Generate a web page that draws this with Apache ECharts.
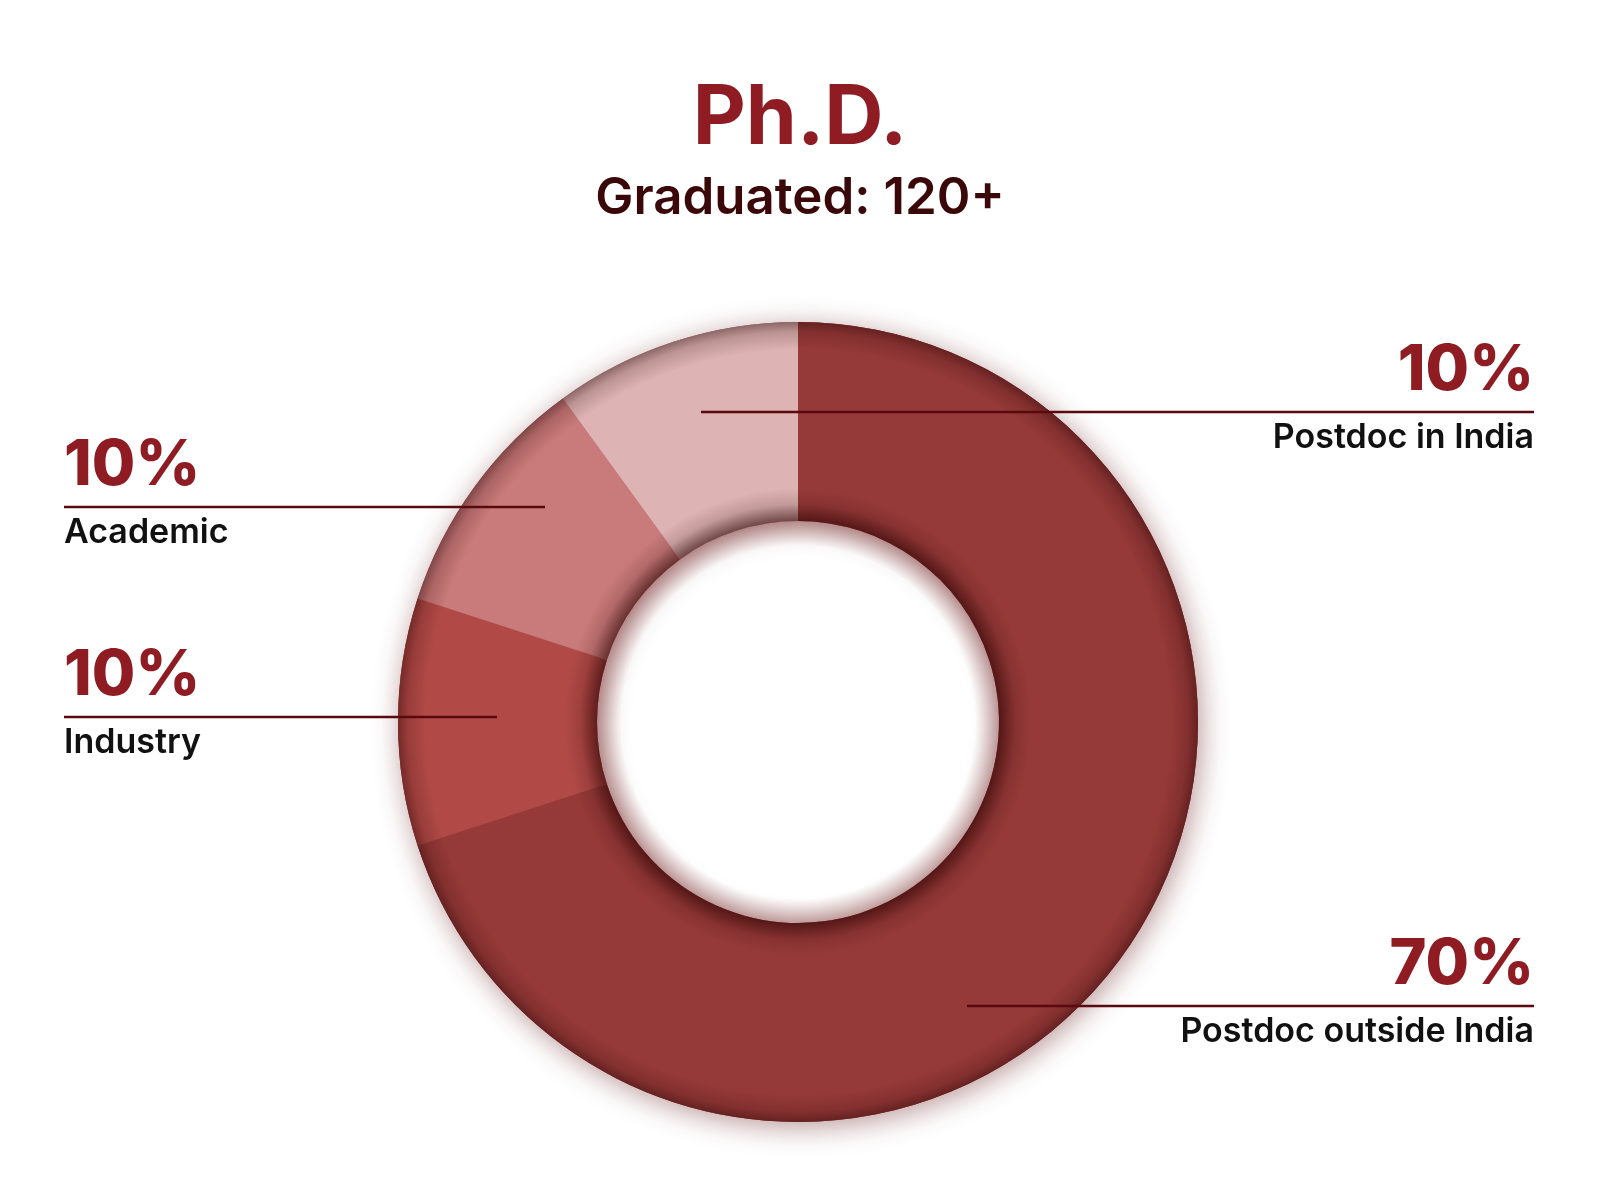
<!DOCTYPE html>
<html>
<head>
<meta charset="utf-8">
<script src="https://cdn.jsdelivr.net/npm/echarts@6/dist/echarts.min.js"></script>
<style>
html,body{margin:0;padding:0;background:#fff;}
#chart{width:1600px;height:1200px;}
</style>
</head>
<body>
<div id="chart"></div>
<script>
// ---- data ----
const categories = ['Postdoc outside India', 'Industry', 'Academic', 'Postdoc in India'];
const shares = [70, 10, 10, 10];
const titleText = 'Ph.D.';
const subtitleText = 'Graduated: 120+';

// ---- style / layout ----
const sliceColors = ['#963A39', '#B14A47', '#C97A7A', '#DDB3B3'];
const CX = 798, CY = 722, R_OUT = 400, R_IN = 201;
const FONT = 'Inter, "Noto Sans", sans-serif';
// label anchor layout per slice: line y, line start x, text side
const labelLayoutTable = [
  { lineY: 1006, startX: 967, side: 'right' },
  { lineY: 717, startX: 497, side: 'left' },
  { lineY: 507, startX: 545, side: 'left' },
  { lineY: 412, startX: 701, side: 'right' }
];
const LEFT_X = 64, RIGHT_X = 1534;

const baseData = () => categories.map((c, i) => ({ name: c, value: shares[i] }));
const pieData = categories.map((c, i) => ({ name: c, value: shares[i], itemStyle: { color: sliceColors[i] } }));
const common = { type: 'pie', center: [CX, CY], radius: [R_IN, R_OUT], startAngle: 90, clockwise: true };

const chart = echarts.init(document.getElementById('chart'));
chart.setOption({
  backgroundColor: '#ffffff',
  animation: false,
  title: [
    { text: titleText, left: 'center', top: 73,
      textStyle: { fontFamily: FONT, fontSize: 82, fontWeight: 700, color: '#8E1C22', lineHeight: 82 } },
    { text: subtitleText, left: 'center', top: 168,
      textStyle: { fontFamily: FONT, fontSize: 51, fontWeight: 600, color: '#3A0808', lineHeight: 51 } }
  ],
  series: [
    Object.assign({}, common, { // base ring with soft drop shadow
      silent: true, z: 1,
      label: { show: false }, labelLine: { show: false },
      itemStyle: { color: '#963A39', shadowBlur: 28, shadowColor: 'rgba(90,10,10,0.42)', shadowOffsetX: 3, shadowOffsetY: 5 },
      data: baseData()
    }),
    Object.assign({}, common, { // main slices
      z: 2, silent: true,
      itemStyle: { borderWidth: 0 },
      label: { show: false }, labelLine: { show: false },
      data: pieData
    }),
    Object.assign({}, common, { // bevel shading overlay
      silent: true, z: 3,
      label: { show: false }, labelLine: { show: false },
      itemStyle: {
        color: { type: 'radial', x: CX, y: CY, r: R_OUT, global: true,
          colorStops: [
            { offset: 0, color: 'rgba(40,0,0,0.6)' },
            { offset: 0.5025, color: 'rgba(40,0,0,0.6)' },
            { offset: 0.545, color: 'rgba(40,0,0,0.14)' },
            { offset: 0.585, color: 'rgba(40,0,0,0)' },
            { offset: 0.93, color: 'rgba(40,0,0,0)' },
            { offset: 0.975, color: 'rgba(40,0,0,0.18)' },
            { offset: 1, color: 'rgba(30,0,0,0.42)' }
          ] }
      },
      data: baseData()
    }),
    { // glow inside the hole
      type: 'pie', silent: true, z: 3,
      center: [CX, CY], radius: [R_IN - 24, R_IN], startAngle: 90,
      label: { show: false }, labelLine: { show: false },
      itemStyle: {
        color: { type: 'radial', x: CX, y: CY, r: R_IN, global: true,
          colorStops: [
            { offset: 0, color: 'rgba(120,40,40,0)' },
            { offset: 0.88, color: 'rgba(120,40,40,0)' },
            { offset: 1, color: 'rgba(120,40,40,0.35)' }
          ] }
      },
      data: [{ name: 'hole', value: shares.reduce((a, b) => a + b, 0) }]
    },
    Object.assign({}, common, { // labels and leader lines on top
      z: 5, silent: true,
      avoidLabelOverlap: false,
      itemStyle: { color: 'rgba(0,0,0,0)', borderWidth: 0 },
      label: {
        show: true, position: 'outside',
        formatter: p => '{p|' + p.value + '%}\n{n|' + p.name + '}',
        rich: {
          p: { fontFamily: FONT, fontSize: 63, fontWeight: 800, color: '#8E1C22', lineHeight: 94 },
          n: { fontFamily: FONT, fontSize: 34, fontWeight: 600, color: '#111111', lineHeight: 40 }
        }
      },
      labelLine: { show: true, smooth: false, length: 10, length2: 10,
        lineStyle: { color: '#5A0A0E', width: 2.5 } },
      labelLayout: function (params) {
        const L = labelLayoutTable[params.dataIndex];
        const endX = L.side === 'left' ? LEFT_X : RIGHT_X;
        return {
          x: endX, y: L.lineY - 88,
          align: L.side, verticalAlign: 'top',
          labelLinePoints: [[L.startX, L.lineY], [(L.startX + endX) / 2, L.lineY], [endX, L.lineY]]
        };
      },
      data: baseData()
    })
  ]
});
</script>
</body>
</html>
